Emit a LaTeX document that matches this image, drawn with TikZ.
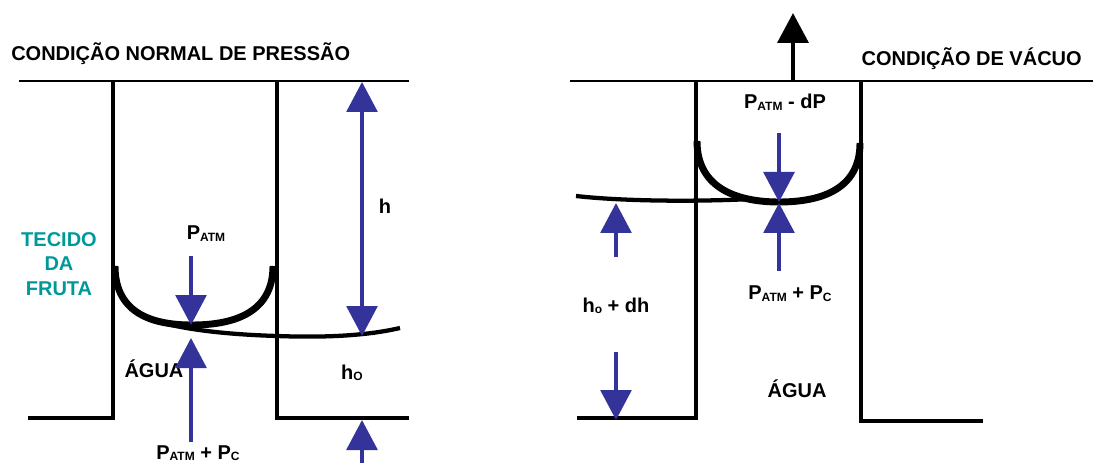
\documentclass[tikz,border=0pt]{standalone}
\usepackage{fontspec}
\setmainfont{Liberation Sans}
\usetikzlibrary{arrows.meta,positioning}
\definecolor{bluearrow}{RGB}{51,51,153}
\definecolor{tealtext}{RGB}{0,153,153}
\newcommand{\lowtxt}[1]{\raisebox{-1pt}{\fontsize{9}{9}\selectfont #1}}

\begin{document}
\begin{tikzpicture}[x=0.75pt,y=-0.75pt,
    lbl/.style={font=\fontsize{15}{18.4}\selectfont\bfseries, inner sep=0pt, anchor=base},
    wall/.style={line width=3pt, line join=miter},
    level/.style={line width=1.1pt},
    menisco/.style={line width=5.2pt},
    agua/.style={line width=3.2pt},
    barrow/.style={draw=bluearrow, line width=3pt, -{Triangle[width=23pt,length=22.5pt]}},
    bdouble/.style={draw=bluearrow, line width=3pt, {Triangle[width=23pt,length=22.5pt]}-{Triangle[width=23pt,length=22.5pt]}}]
    \useasboundingbox (0,0) rectangle (1099,463);

    % condicao normal
    \draw[level] (19,81) -- (409,81);
    \draw[wall] (28,418) -- (113,418) -- (113,81);
    \draw[wall] (277,81) -- (277,418) -- (409,418);
    \draw[menisco] (115,266) .. controls (115,315) and (155,325) .. (192,325)
        .. controls (230,325) and (273,315) .. (273,266);
    \draw[agua] (140,314) .. controls (160,326) and (210,334) .. (277,336)
        .. controls (330,338) and (370,335) .. (400,328);

    \node[lbl, anchor=base west] (titleL) at (11,61) {CONDIÇÃO NORMAL DE PRESSÃO};
    \node[lbl, text=tealtext, align=center, anchor=center] (tecido) at (59,264) {TECIDO\\DA\\FRUTA};
    \node[lbl] (patmL) at (206,240) {P\lowtxt{ATM}};
    \node[lbl] (pcL) at (198,459) {P\lowtxt{ATM} + P\lowtxt{C}};
    \node[lbl] (aguaL) at (154,377) {ÁGUA};
    \node[lbl] (hL) at (385,214) {h};
    \node[lbl] (hoL) at (352,379) {h\lowtxt{O}};

    \coordinate (dnL) at (191,256);
    \coordinate (tipdnL) at (191,325);
    \coordinate (upL) at (191,442);
    \coordinate (tipupL) at (191,338);
    \coordinate (hTop) at (362,82);
    \coordinate (hBot) at (362,336);
    \coordinate (hoTail) at (362,463);
    \coordinate (hoTip) at (362,420);

    \draw[barrow] (dnL) -- (tipdnL);
    \draw[barrow] (upL) -- (tipupL);
    \draw[bdouble] (hTop) -- (hBot);
    \draw[barrow] (hoTail) -- (hoTip);

    % condicao de vacuo
    \draw[level] (570,81) -- (1093,81);
    \draw[wall] (577,418) -- (696,418) -- (696,81);
    \draw[wall] (861,81) -- (861,421) -- (983,421);
    \draw[menisco] (697,141) .. controls (697,190) and (740,202) .. (779,202)
        .. controls (820,202) and (860,190) .. (860,143);
    \draw[agua] (576,196) .. controls (620,201) and (690,202) .. (752,199);

    \node[lbl, anchor=base east] (titleR) at (1082,66) {CONDIÇÃO DE VÁCUO};
    \node[lbl] (dpR) at (785,109) {P\lowtxt{ATM} - dP};
    \node[lbl] (pcR) at (790,300) {P\lowtxt{ATM} + P\lowtxt{C}};
    \node[lbl] (hdR) at (616,312) {h\lowtxt{o} + dh};
    \node[lbl] (aguaR) at (797,397) {ÁGUA};

    \coordinate (vacBase) at (793,81);
    \coordinate (vacTip) at (793,13);
    \coordinate (dnR) at (779,133);
    \coordinate (tipdnR) at (779,202);
    \coordinate (upR) at (779,271);
    \coordinate (tipupR) at (779,203);
    \coordinate (hdUp) at (616,257);
    \coordinate (hdUpTip) at (616,203);
    \coordinate (hdDn) at (616,352);
    \coordinate (hdDnTip) at (616,420);

    \draw[line width=3.5pt, -{Triangle[width=23pt,length=22.5pt]}] (vacBase) -- (vacTip);
    \draw[barrow] (dnR) -- (tipdnR);
    \draw[barrow] (upR) -- (tipupR);
    \draw[barrow] (hdUp) -- (hdUpTip);
    \draw[barrow] (hdDn) -- (hdDnTip);
\end{tikzpicture}
\end{document}
